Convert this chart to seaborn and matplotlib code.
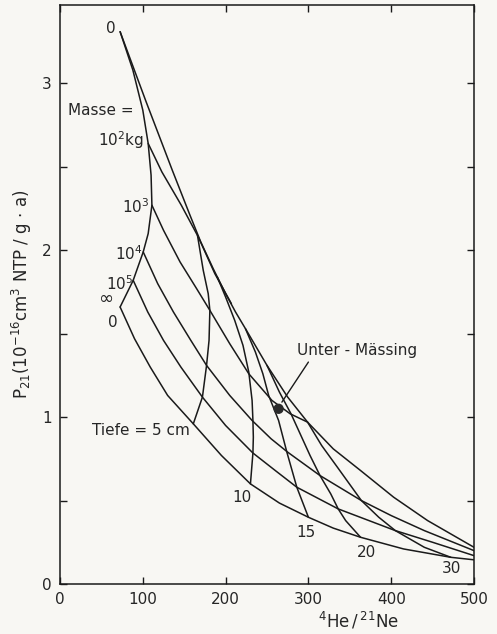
import numpy as np
import pandas as pd
import seaborn as sns
import matplotlib.pyplot as plt

# depth 0 (surface) curve, top "0" down to infinite mass
surface_x = [72.6, 88, 100, 106.5, 110, 111, 106.5, 100.5, 88.4, 72.6]
surface_y = [3.31, 3.08, 2.84, 2.64, 2.45, 2.27, 2.10, 1.99, 1.82, 1.66]

# upper envelope starting at the top "0"
center_x = [72.6, 104, 135.6, 157, 170, 185, 200, 212, 224, 250, 275, 299, 330, 363, 403, 444, 500]
center_y = [3.31, 2.89, 2.48, 2.21, 2.05, 1.89, 1.74, 1.63, 1.53, 1.31, 1.12, 0.97, 0.81, 0.68, 0.52, 0.38, 0.22]

# mass curves
m1e2_x = [106.5, 123, 146.5, 167, 187, 207]
m1e2_y = [2.64, 2.47, 2.27, 2.08, 1.86, 1.68]
m1e3_x = [111, 125, 145, 165, 181, 205, 228, 256, 278, 299]
m1e3_y = [2.27, 2.12, 1.93, 1.77, 1.64, 1.44, 1.26, 1.10, 1.02, 0.97]
m1e4_x = [100.5, 118, 137, 158, 177, 205, 232, 255, 275, 314, 364, 400, 440, 500]
m1e4_y = [1.99, 1.80, 1.63, 1.46, 1.31, 1.13, 0.98, 0.87, 0.79, 0.65, 0.50, 0.41, 0.32, 0.20]
m1e5_x = [88.4, 106, 125, 146, 172, 200, 233, 260, 286, 336, 405, 450, 500]
m1e5_y = [1.82, 1.63, 1.46, 1.30, 1.12, 0.95, 0.785, 0.68, 0.58, 0.45, 0.32, 0.25, 0.17]
minf_x = [72.6, 90, 109, 130, 161, 195, 230, 265, 300, 330, 363, 415, 472, 500]
minf_y = [1.66, 1.47, 1.30, 1.13, 0.96, 0.77, 0.60, 0.485, 0.40, 0.335, 0.28, 0.21, 0.16, 0.145]

# depth curves (Tiefe)
d5_x = [166, 173, 179, 181, 180, 177, 172, 161]
d5_y = [2.09, 1.88, 1.74, 1.64, 1.46, 1.31, 1.12, 0.96]
d10_x = [190, 200, 211, 221, 228, 232, 233, 233.5, 233, 230]
d10_y = [1.84, 1.72, 1.58, 1.43, 1.27, 1.10, 0.98, 0.88, 0.785, 0.60]
d15_x = [224, 236, 245, 252, 264, 274, 286, 300]
d15_y = [1.53, 1.39, 1.26, 1.13, 0.98, 0.79, 0.58, 0.40]
d20_x = [250, 265, 279, 302, 314, 327, 336, 345, 363]
d20_y = [1.31, 1.15, 1.02, 0.77, 0.65, 0.54, 0.45, 0.38, 0.28]
d30_x = [299, 316, 335, 364, 385, 405, 440, 472]
d30_y = [0.97, 0.83, 0.70, 0.50, 0.40, 0.32, 0.22, 0.16]

# meteorite
unter_x = [264]
unter_y = [1.05]

curves = {
    "surface": (surface_x, surface_y), "center": (center_x, center_y),
    "1e2": (m1e2_x, m1e2_y), "1e3": (m1e3_x, m1e3_y), "1e4": (m1e4_x, m1e4_y),
    "1e5": (m1e5_x, m1e5_y), "inf": (minf_x, minf_y),
    "d5": (d5_x, d5_y), "d10": (d10_x, d10_y), "d15": (d15_x, d15_y),
    "d20": (d20_x, d20_y), "d30": (d30_x, d30_y),
}
rows = []
for name, (xs, ys) in curves.items():
    for i, (x, y) in enumerate(zip(xs, ys)):
        rows.append({"curve": name, "order": i, "x": x, "y": y})
df = pd.DataFrame(rows)

sns.set_style("ticks")
plt.rcParams['font.family'] = ['DejaVu Sans']
bg = '#f8f7f3'

fig = plt.figure(figsize=(4.97, 6.34), dpi=100, facecolor=bg)
ax = fig.add_axes([60 / 497, 50 / 634, 414 / 497, 579 / 634])
ax.set_facecolor(bg)

sns.lineplot(data=df, x="x", y="y", units="curve", estimator=None, sort=False,
             color="#1a1a1a", lw=1.1, ax=ax, legend=False)
sns.scatterplot(x=unter_x, y=unter_y, color="#2a2a2a", s=55, edgecolor="none", ax=ax, zorder=5)

# leader line for the meteorite
ax.plot([268, 300], [1.09, 1.33], color="#1a1a1a", lw=1.0)

fs = 11
ax.text(286, 1.40, "Unter - Mässing", fontsize=fs, ha="left", va="center")
ax.text(67, 3.33, "0", fontsize=fs, ha="right", va="center")
ax.text(10, 2.84, "Masse =", fontsize=fs, ha="left", va="center")
ax.text(101, 2.66, "10$^2$kg", fontsize=fs, ha="right", va="center")
ax.text(108, 2.26, "10$^3$", fontsize=fs, ha="right", va="center")
ax.text(100, 1.98, "10$^4$", fontsize=fs, ha="right", va="center")
ax.text(88, 1.80, "10$^5$", fontsize=fs, ha="right", va="center")
ax.text(64, 1.71, "∞", fontsize=fs + 2, ha="right", va="center")
ax.text(70, 1.57, "0", fontsize=fs, ha="right", va="center")
ax.text(157, 0.92, "Tiefe = 5 cm", fontsize=fs, ha="right", va="center")
ax.text(220, 0.52, "10", fontsize=fs, ha="center", va="center")
ax.text(297, 0.31, "15", fontsize=fs, ha="center", va="center")
ax.text(370, 0.19, "20", fontsize=fs, ha="center", va="center")
ax.text(473, 0.095, "30", fontsize=fs, ha="center", va="center")

ax.set_xlim(0, 500)
ax.set_ylim(0, 3.47)
ax.set_xticks([0, 100, 200, 300, 400, 500])
ax.set_yticks([0, 1, 2, 3])
ax.set_yticks([0.5, 1.5, 2.5], minor=True)
ax.tick_params(which="both", direction="in", length=5, width=1.0,
               top=True, right=True, labelsize=fs, pad=6, color="#1a1a1a")
for s in ax.spines.values():
    s.set_linewidth(1.1)
    s.set_color("#1a1a1a")

ax.set_xlabel(r"$^{4}\mathrm{He}\,/\,^{21}\mathrm{Ne}$", fontsize=fs + 1, labelpad=2)
ax.xaxis.set_label_coords(0.72, -0.045)
ax.set_ylabel(r"P$_{21}$(10$^{-16}$cm$^{3}$ NTP / g $\cdot$ a)", fontsize=fs + 1, labelpad=6)

fig.savefig("out.png", dpi=100, facecolor=bg)
